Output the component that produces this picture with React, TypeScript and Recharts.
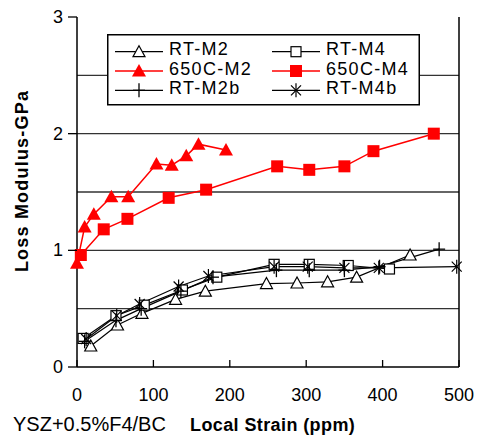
import { LineChart, Line, XAxis, YAxis, ReferenceLine, Legend, Label } from 'recharts';

// values (x = local strain ppm, y = loss modulus GPa)
const rtM2X = [18, 53, 85, 129, 168, 248, 288, 328, 366, 436];
const rtM2Y = [0.18, 0.36, 0.46, 0.58, 0.65, 0.715, 0.72, 0.73, 0.77, 0.96];
const rtM4X = [8, 51, 88, 138, 183, 258, 304, 355, 409];
const rtM4Y = [0.245, 0.44, 0.53, 0.66, 0.77, 0.88, 0.88, 0.87, 0.84];
const hotM2X = [0, 10, 22, 45, 67, 104, 124, 143, 159, 195];
const hotM2Y = [0.89, 1.2, 1.31, 1.46, 1.46, 1.74, 1.73, 1.81, 1.91, 1.86];
const hotM4X = [5, 35, 66, 120, 169, 262, 304, 350, 388, 467];
const hotM4Y = [0.96, 1.18, 1.27, 1.45, 1.52, 1.72, 1.69, 1.72, 1.85, 2.0];
const rtM2bX = [10, 51, 84, 136, 178, 261, 304, 350, 396, 474];
const rtM2bY = [0.22, 0.4, 0.5, 0.65, 0.77, 0.83, 0.83, 0.83, 0.86, 1.01];
const rtM4bX = [12, 52, 82, 133, 172, 258, 302, 350, 395, 497];
const rtM4bY = [0.24, 0.44, 0.54, 0.69, 0.78, 0.86, 0.86, 0.85, 0.85, 0.86];

const xTicks = [0, 100, 200, 300, 400, 500];
const yTicks = [0, 0.5, 1, 1.5, 2, 2.5, 3];
const yGrid = [0.5, 1, 1.5, 2, 2.5];

const RED = '#ff0000';
const FONT = '"Liberation Sans", Arial, sans-serif';

type Mk = 'openTri' | 'openSq' | 'redTri' | 'redSq' | 'plus' | 'star';

const series: { name: string; xs: number[]; ys: number[]; color: string; mk: Mk }[] = [
  { name: 'RT-M2', xs: rtM2X, ys: rtM2Y, color: '#000', mk: 'openTri' },
  { name: 'RT-M4', xs: rtM4X, ys: rtM4Y, color: '#000', mk: 'openSq' },
  { name: '650C-M2', xs: hotM2X, ys: hotM2Y, color: RED, mk: 'redTri' },
  { name: '650C-M4', xs: hotM4X, ys: hotM4Y, color: RED, mk: 'redSq' },
  { name: 'RT-M2b', xs: rtM2bX, ys: rtM2bY, color: '#000', mk: 'plus' },
  { name: 'RT-M4b', xs: rtM4bX, ys: rtM4bY, color: '#000', mk: 'star' },
];

// 点の形
function marker(kind: Mk, cx: number, cy: number, key?: string) {
  switch (kind) {
    case 'openTri':
      return <polygon key={key} points={`${cx},${cy - 6} ${cx + 6},${cy + 5} ${cx - 6},${cy + 5}`} fill="#fff" stroke="#000" strokeWidth={1.2} />;
    case 'openSq':
      return <rect key={key} x={cx - 5} y={cy - 5} width={10} height={10} fill="#fff" stroke="#000" strokeWidth={1.2} />;
    case 'redTri':
      return <polygon key={key} points={`${cx},${cy - 7} ${cx + 7},${cy + 5.5} ${cx - 7},${cy + 5.5}`} fill={RED} />;
    case 'redSq':
      return <rect key={key} x={cx - 6} y={cy - 6} width={12} height={12} fill={RED} />;
    case 'plus':
      return (
        <g key={key} stroke="#000" strokeWidth={1.3}>
          <line x1={cx - 6} y1={cy} x2={cx + 6} y2={cy} />
          <line x1={cx} y1={cy - 7} x2={cx} y2={cy + 7} />
        </g>
      );
    default:
      return (
        <g key={key} stroke="#000" strokeWidth={1.2}>
          <line x1={cx - 5} y1={cy - 5} x2={cx + 5} y2={cy + 5} />
          <line x1={cx - 5} y1={cy + 5} x2={cx + 5} y2={cy - 5} />
          <line x1={cx} y1={cy - 7} x2={cx} y2={cy + 7} />
        </g>
      );
  }
}

const XTick = ({ x, y, payload }: any) => (
  <g>
    <line x1={x} x2={x} y1={y} y2={y - 7} stroke="#000" strokeWidth={1.3} />
    <text x={x} y={y + 34} textAnchor="middle" fontSize={18} fontFamily={FONT} fill="#000">
      {payload.value}
    </text>
  </g>
);

const YTick = ({ x, y, payload }: any) => {
  if (!Number.isInteger(payload.value)) return <g />;
  return (
    <g>
      <line x1={x - 9} x2={x} y1={y} y2={y} stroke="#000" strokeWidth={1.3} />
      <text x={x - 14} y={y + 6} textAnchor="end" fontSize={18} fontFamily={FONT} fill="#000">
        {payload.value}
      </text>
    </g>
  );
};

const LegendBox = () => (
  <svg width={313} height={72} style={{ display: 'block' }}>
    <rect x={0.75} y={0.75} width={311.5} height={70} fill="#fff" stroke="#000" strokeWidth={1.5} />
    {series.map((s, i) => {
      const lx = i % 2 ? 165 : 8;
      const cy = 17.7 + Math.floor(i / 2) * 19.3;
      return (
        <g key={s.name}>
          <line x1={lx} x2={lx + 48} y1={cy} y2={cy} stroke={s.color} strokeWidth={1.3} />
          {marker(s.mk, lx + 24, cy)}
          <text x={lx + 54} y={cy + 3.5} fontSize={18} fontFamily={FONT} letterSpacing={1.3} fill="#000">
            {s.name}
          </text>
        </g>
      );
    })}
  </svg>
);

export default function App() {
  return (
    <div style={{ position: 'absolute', left: 0, top: 0, width: 477, height: 440, background: '#fff' }}>
      <LineChart width={477} height={440} margin={{ top: 17, right: 18, bottom: 0, left: 0 }}>
        <XAxis
          type="number"
          dataKey="x"
          domain={[0, 500]}
          ticks={xTicks}
          height={73}
          tickSize={0}
          tickMargin={0}
          tickLine={false}
          tick={<XTick />}
          axisLine={{ stroke: '#000', strokeWidth: 1.5 }}
        >
          <Label
            content={() => (
              <g fontFamily={FONT} fill="#000">
                <text x={13} y={431} fontSize={20}>YSZ+0.5%F4/BC</text>
                <text x={190} y={431} fontSize={18} fontWeight="bold" letterSpacing={0.4}>Local Strain (ppm)</text>
              </g>
            )}
          />
        </XAxis>
        <YAxis
          type="number"
          domain={[0, 3]}
          ticks={yTicks}
          width={77}
          tickSize={0}
          tickMargin={0}
          tickLine={false}
          tick={<YTick />}
          axisLine={{ stroke: '#000', strokeWidth: 1.5 }}
        >
          <Label
            content={() => (
              <text transform="translate(28,181) rotate(-90)" textAnchor="middle" fontSize={18} fontWeight="bold" fontFamily={FONT} letterSpacing={1.2} fill="#000">
                Loss Modulus-GPa
              </text>
            )}
          />
        </YAxis>
        {yGrid.map((v) => (
          <ReferenceLine key={v} y={v} stroke="#333" strokeWidth={1.4} />
        ))}
        <ReferenceLine x={500} stroke="#000" strokeWidth={1.5} />
        {series.map((s) => (
          <Line
            key={s.name}
            name={s.name}
            data={s.xs.map((x, i) => ({ x, y: s.ys[i] }))}
            dataKey="y"
            stroke={s.color}
            strokeWidth={s.color === RED ? 1.5 : 1.2}
            dot={(p: any) => marker(s.mk, p.cx, p.cy, `${s.name}-${p.index}`)}
            activeDot={false}
            isAnimationActive={false}
          />
        ))}
        <Legend
          layout="vertical"
          align="center"
          verticalAlign="middle"
          content={() => <LegendBox />}
          wrapperStyle={{ position: 'absolute', left: 107, top: 34, width: 313, height: 72 }}
        />
      </LineChart>
    </div>
  );
}
